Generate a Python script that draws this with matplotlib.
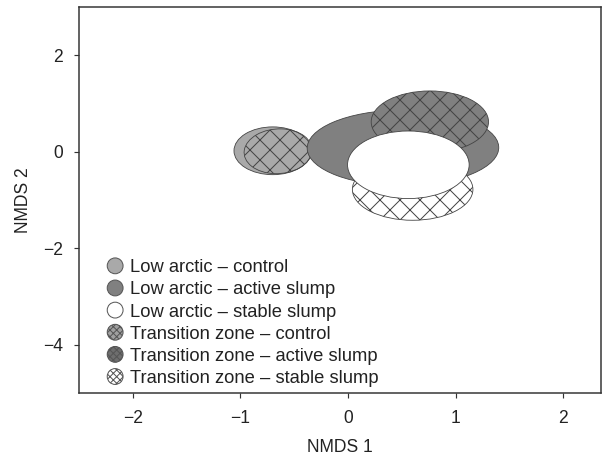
import matplotlib
matplotlib.use("Agg")
import matplotlib.pyplot as plt
import matplotlib.patches as mpatches
from matplotlib.legend_handler import HandlerPatch

plt.rcParams["font.family"] = ["Liberation Sans", "DejaVu Sans"]
plt.rcParams["hatch.linewidth"] = 0.6

# Grupos y elipses (centro, ancho, alto, angulo) en unidades NMDS
grupos = [
    "Low arctic \u2013 control",
    "Low arctic \u2013 active slump",
    "Low arctic \u2013 stable slump",
    "Transition zone \u2013 control",
    "Transition zone \u2013 active slump",
    "Transition zone \u2013 stable slump",
]
centro_x = [-0.70, 0.51, 0.56, -0.65, 0.76, 0.60]
centro_y = [0.02, 0.08, -0.27, 0.01, 0.62, -0.78]
ancho = [0.72, 1.78, 1.13, 0.63, 1.09, 1.12]
alto = [0.99, 1.57, 1.40, 0.93, 1.28, 1.28]
angulo = [0, 2, 0, -4, 0, 0]

# Estilos
relleno = ["#a9a9a9", "#808080", "white", "none", "#808080", "white"]
tramas = [None, None, None, "xx", "xx", "xx"]
relleno_leyenda = ["#a9a9a9", "#808080", "white", "#a0a0a0", "#6e6e6e", "white"]
tramas_leyenda = [None, None, None, "xxxxxx", "xxxxxx", "xxxxxx"]
orden_dibujo = [0, 3, 1, 4, 5, 2]


class HandlerCirculo(HandlerPatch):
    def create_artists(self, legend, orig_handle, xdescent, ydescent,
                       width, height, fontsize, trans):
        centro = (width / 2 - xdescent, height / 2 - ydescent)
        d = 9.5
        p = mpatches.Ellipse(centro, d, d)
        self.update_prop(p, orig_handle, legend)
        p.set_transform(trans)
        return [p]


fig = plt.figure(figsize=(603 / 120, 460 / 120), dpi=120)
ax = fig.add_axes([79 / 603, 1 - 393 / 460, (601 - 79) / 603, (393 - 7) / 460])

for i in orden_dibujo:
    e = mpatches.Ellipse(
        (centro_x[i], centro_y[i]), ancho[i], alto[i], angle=angulo[i],
        facecolor=relleno[i], edgecolor="#444444", linewidth=0.5,
        hatch=tramas[i],
    )
    ax.add_patch(e)

ax.set_xlim(-2.5, 2.35)
ax.set_ylim(-5, 3)
ax.set_xticks([-2, -1, 0, 1, 2])
ax.set_xticklabels(["\u22122", "\u22121", "0", "1", "2"])
ax.set_yticks([-4, -2, 0, 2])
ax.set_yticklabels(["\u22124", "\u22122", "0", "2"])
ax.tick_params(direction="out", length=3, width=0.7, colors="#333333",
               labelsize=10.5, labelcolor="#222222")
ax.tick_params(axis="x", pad=7)
ax.tick_params(axis="y", pad=6.5)
for s in ax.spines.values():
    s.set_linewidth(0.9)
    s.set_color("#333333")

ax.set_xlabel("NMDS 1", fontsize=10.5, color="#222222", labelpad=7.5)
ax.set_ylabel("NMDS 2", fontsize=10.5, color="#222222", labelpad=6.5)

handles = [
    mpatches.Patch(facecolor=relleno_leyenda[i], edgecolor="#555555",
                   linewidth=0.6, hatch=tramas_leyenda[i], label=grupos[i])
    for i in range(len(grupos))
]
ax.legend(handles=handles, loc="lower left", bbox_to_anchor=(0.035, -0.008),
          frameon=False, fontsize=11, labelspacing=0.28, handlelength=0.95,
          handletextpad=0.35, borderpad=0.0, labelcolor="#222222",
          handler_map={mpatches.Patch: HandlerCirculo()})

fig.savefig("out.png", dpi=120)
